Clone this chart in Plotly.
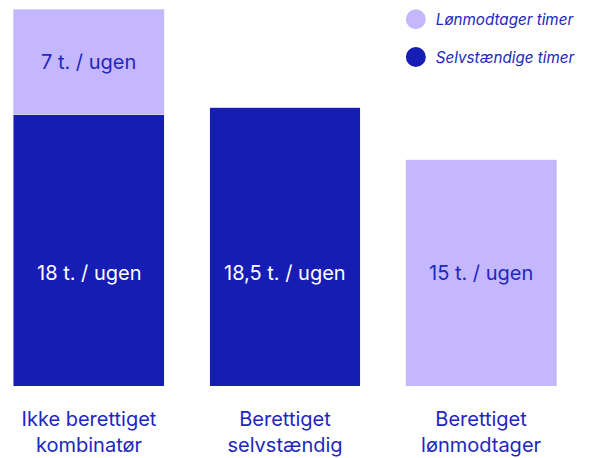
import plotly.graph_objects as go

categories = ["Ikke berettiget<br>kombinatør", "Berettiget<br>selvstændig", "Berettiget<br>lønmodtager"]
selvst_timer = [18, 18.5, 0]
loenmod_timer = [7, 0, 15]
selvst_labels = ["18 t. / ugen", "18,5 t. / ugen", None]
loenmod_labels = ["7 t. / ugen", None, "15 t. / ugen"]

DARK = "#161db5"
LIGHT = "#c5b7fd"
TEXT = "#2127c0"
FONT = "Inter"

x_idx = list(range(len(categories)))

fig = go.Figure()
fig.add_trace(go.Bar(x=x_idx, y=selvst_timer, marker_color=DARK, showlegend=False,
                     hoverinfo="skip"))
fig.add_trace(go.Bar(x=x_idx, y=loenmod_timer, marker_color=LIGHT, showlegend=False,
                     hoverinfo="skip"))

# legend-only entries with circular symbols
fig.add_trace(go.Scatter(x=[None], y=[None], mode="markers", name="Lønmodtager timer",
                         marker=dict(color=LIGHT, size=16, line=dict(color=LIGHT, width=4)),
                         legendgroup="a"))
fig.add_trace(go.Scatter(x=[None], y=[None], mode="markers", name="Selvstændige timer",
                         marker=dict(color=DARK, size=16, line=dict(color=DARK, width=4)),
                         legendgroup="b"))

# bar labels
LOW_Y = 7.5
for i in x_idx:
    if selvst_labels[i]:
        fig.add_annotation(x=i, y=LOW_Y, text=selvst_labels[i], showarrow=False,
                           font=dict(family=FONT, size=20, color="white"))
    if loenmod_labels[i]:
        base = selvst_timer[i]
        y = base + loenmod_timer[i] / 2 if base > 0 else LOW_Y
        fig.add_annotation(x=i, y=y, text=loenmod_labels[i], showarrow=False,
                           font=dict(family=FONT, size=20, color=TEXT))

fig.update_layout(
    width=585, height=450,
    barmode="stack", bargap=0.23,
    margin=dict(l=0, r=0, t=0, b=72, autoexpand=False),
    plot_bgcolor="white", paper_bgcolor="white",
    font=dict(family=FONT, color=TEXT),
    xaxis=dict(range=[-0.413, 2.571], tickmode="array", tickvals=x_idx, ticktext=categories,
               showgrid=False, zeroline=False, showline=False, ticks="",
               ticklabelstandoff=19, automargin=False,
               tickfont=dict(family=FONT, size=20, color=TEXT)),
    yaxis=dict(range=[0, 25.07], visible=False, showgrid=False, zeroline=False),
    legend=dict(x=0.663, y=1.0135, xanchor="left", yanchor="top",
                font=dict(family=FONT, size=15.2, color=TEXT, style="italic"),
                tracegroupgap=15, traceorder="grouped",
                bgcolor="rgba(0,0,0,0)"),
)

fig.write_html("out.html")
